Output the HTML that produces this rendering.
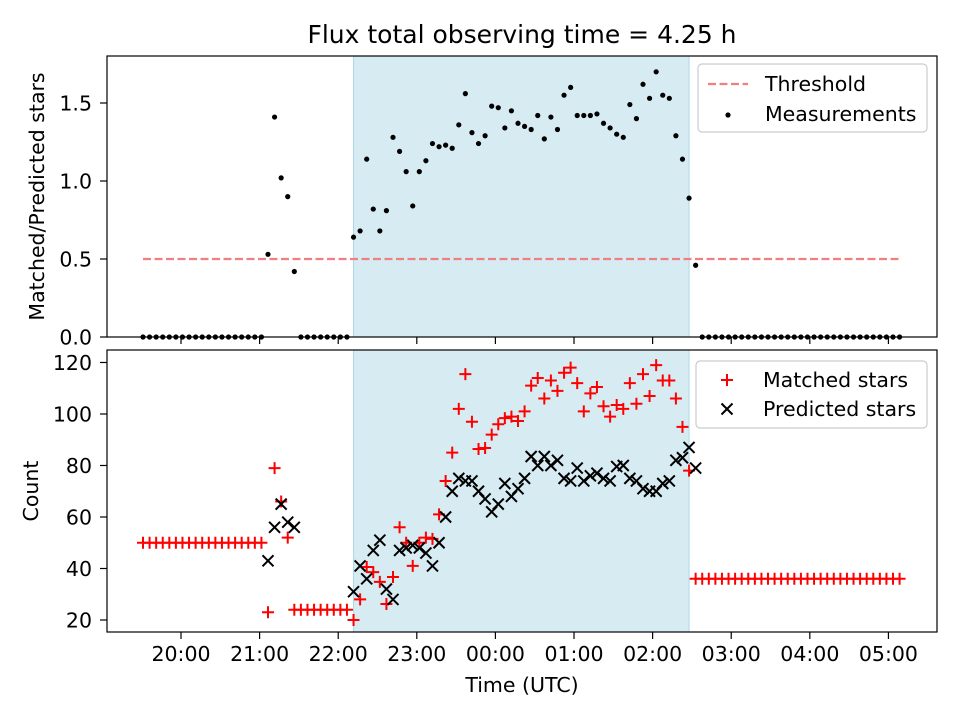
<!DOCTYPE html>
<html><head><meta charset="utf-8"><style>
body{margin:0;background:#fff}
svg{display:block;font-family:"DejaVu Sans","Liberation Sans",sans-serif}
</style></head><body>
<svg id="chart" width="960" height="720" viewBox="0 0 960 720"></svg>
<script>
const tickHours=[0,1,2,3,4,5,6,7,8,9];
const tickLabels=["20:00","21:00","22:00","23:00","00:00","01:00","02:00","03:00","04:00","05:00"];
const ratioTicks=[0,0.5,1.0,1.5];
const countTicks=[20,40,60,80,100,120];
const startHour=-0.4835, stepHour=0.0837;
const threshold=0.5;
const shadeStartIdx=32, shadeEndIdx=83;
function rep(v,n){return Array(n).fill(v);}
const ratio=[].concat(rep(0,19),[0.53,1.41,1.02,0.90,0.42],rep(0,8),
[0.64,0.68,1.14,0.82,0.68,0.81,1.28,1.19,1.06,0.84,1.06,1.13,1.24,1.22,1.23,1.21,1.36,1.56,
1.31,1.24,1.29,1.48,1.47,1.34,1.45,1.37,1.35,1.33,1.42,1.27,1.41,1.33,1.55,1.60,1.42,1.42,1.42,1.43,
1.37,1.34,1.30,1.28,1.49,1.40,1.62,1.53,1.70,1.55,1.53,1.29,1.14,0.89,0.46],rep(0,31));
const matched=[].concat(rep(50,19),[23,79,66,52,24],rep(24,8),
[20,28,40.6,38.6,34.8,26.2,36.7,56,50,41,50,52,51.5,61,74,85,102,115.5,
97,86.4,86.8,92,96,98.4,99,97.3,101,111,114,106,113,109,116,118,112,101,108,110.5,
103,99,103.5,102,112,104,115.5,107,119,113,113,106,95,78,36],rep(36,31));
const predicted=[].concat(rep(0,19),[43,56,65,58,56],rep(0,8),
[31,41,36,47,51,32,28,47,48,49,48,46,41,50,60,70,75,74,
74,70,67,62,65,73,68,71,75,83.5,80,83.5,80,82,75,74,79,74,76,77,
75,74,79.6,80,75,74,71,70,70,73,74,82,83,87,79],rep(0,31));

const svg=document.getElementById('chart');
const NS='http://www.w3.org/2000/svg';
function mk(tag,attrs,parent){const e=document.createElementNS(NS,tag);for(const k in attrs)e.setAttribute(k,attrs[k]);(parent||svg).appendChild(e);return e;}
const L=107,R=937;
const xMin=-0.9415,xMax=9.618;
const X=h=>L+(h-xMin)/(xMax-xMin)*(R-L);
const T1=56,B1=337, T2=350,B2=632;
const Y1=v=>B1-(v-0)/(1.8013)*(B1-T1);
const y2min=15.34,y2max=124.85;
const Y2=v=>B2-(v-y2min)/(y2max-y2min)*(B2-T2);
const tAt=i=>startHour+i*stepHour;
const FS=20.5;

let t=mk('text',{x:522,y:43,'text-anchor':'middle','font-size':'25'});t.textContent='Flux total observing time = 4.25 h';


function panel(T,B,name){
  const g=mk('g',{});
  
  const s=mk('rect',{x:X(tAt(shadeStartIdx)),y:T,width:X(tAt(shadeEndIdx))-X(tAt(shadeStartIdx)),height:B-T,fill:'#add8e6','fill-opacity':0.5,stroke:'#add8e6','stroke-width':1},g);
  
  return g;
}
function frame(T,B,g){
  const f=mk('rect',{x:L,y:T,width:R-L,height:B-T,fill:'none',stroke:'#000','stroke-width':1.2},g);
  
  tickHours.forEach((h,i)=>{
    mk('line',{x1:X(h),x2:X(h),y1:B,y2:B+7,stroke:'#000','stroke-width':1.2},g);
  });
}
const g1=panel(T1,B1,'ratio-panel');
const th=mk('line',{x1:X(tAt(0)),x2:X(tAt(115)),y1:Y1(threshold),y2:Y1(threshold),stroke:'#f08080','stroke-width':2.2,'stroke-dasharray':'8,3.5'},g1);

ratio.forEach((v,i)=>{
  const c=mk('circle',{cx:X(tAt(i)),cy:Y1(v),r:2.6,fill:'#000'},g1);
  
  
});
frame(T1,B1,g1);
ratioTicks.forEach(v=>{
  mk('line',{x1:L-7,x2:L,y1:Y1(v),y2:Y1(v),stroke:'#000','stroke-width':1.2},g1);
  const tx=mk('text',{x:92,y:Y1(v)+7.5,'text-anchor':'end','font-size':FS},g1);tx.textContent=v.toFixed(1);
  
});
let yl=mk('text',{transform:`translate(44,${(T1+B1)/2}) rotate(-90)`,'text-anchor':'middle','font-size':FS});yl.textContent='Matched/Predicted stars';


const g2=panel(T2,B2,'count-panel');
const clip=mk('clipPath',{id:'c2'});mk('rect',{x:L,y:T2,width:R-L,height:B2-T2},clip);
const marks=mk('g',{'clip-path':'url(#c2)'},g2);
const s=6;
matched.forEach((v,i)=>{
  const x=X(tAt(i)),y=Y2(v);
  const p=mk('path',{d:`M${x-s} ${y}H${x+s}M${x} ${y-s}V${y+s}`,stroke:'#ff0000','stroke-width':2,fill:'none'},marks);
  
  
});
predicted.forEach((v,i)=>{
  if(v<y2min)return;
  const x=X(tAt(i)),y=Y2(v),k=5.5;
  const p=mk('path',{d:`M${x-k} ${y-k}L${x+k} ${y+k}M${x-k} ${y+k}L${x+k} ${y-k}`,stroke:'#000','stroke-width':2,fill:'none'},marks);
  
  
});
frame(T2,B2,g2);
countTicks.forEach(v=>{
  mk('line',{x1:L-7,x2:L,y1:Y2(v),y2:Y2(v),stroke:'#000','stroke-width':1.2},g2);
  const tx=mk('text',{x:92,y:Y2(v)+7.5,'text-anchor':'end','font-size':FS},g2);tx.textContent=v;
  
});
tickHours.forEach((h,i)=>{
  const tx=mk('text',{x:X(h),y:661,'text-anchor':'middle','font-size':FS},g2);tx.textContent=tickLabels[i];
  
});
let yl2=mk('text',{transform:`translate(38,${(T2+B2)/2}) rotate(-90)`,'text-anchor':'middle','font-size':FS});yl2.textContent='Count';

let xl=mk('text',{x:522,y:692,'text-anchor':'middle','font-size':FS});xl.textContent='Time (UTC)';


function legend(x,y,w,h,name){const g=mk('g',{});
mk('rect',{x:x,y:y,width:w,height:h,rx:4,fill:'#fff','fill-opacity':0.8,stroke:'#ccc','stroke-width':1.2},g);return g;}
const lg1=legend(698,64,229,68,'legend-ratio');
mk('line',{x1:708,x2:748,y1:84,y2:84,stroke:'#f08080','stroke-width':2.2,'stroke-dasharray':'8,3.5'},lg1);
let e=mk('text',{x:765,y:91,'font-size':FS},lg1);e.textContent='Threshold';
mk('circle',{cx:728,cy:115,r:2.6,fill:'#000'},lg1);
e=mk('text',{x:765,y:121,'font-size':FS},lg1);e.textContent='Measurements';
const lg2=legend(696,361,231,67,'legend-count');
mk('path',{d:'M721 380H733M727 374V386',stroke:'#f00','stroke-width':2},lg2);
e=mk('text',{x:763,y:387,'font-size':FS},lg2);e.textContent='Matched stars';
mk('path',{d:'M721.5 403.5L732.5 414.5M721.5 414.5L732.5 403.5',stroke:'#000','stroke-width':2},lg2);
e=mk('text',{x:763,y:416,'font-size':FS},lg2);e.textContent='Predicted stars';
</script>
</body></html>
